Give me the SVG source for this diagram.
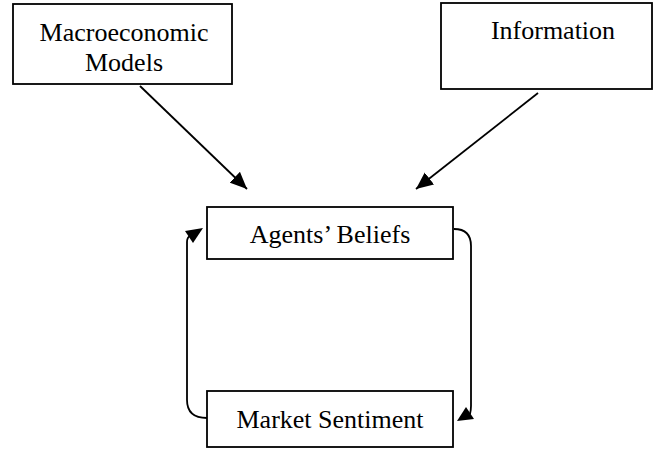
<svg xmlns="http://www.w3.org/2000/svg" width="654" height="449" viewBox="0 0 654 449">
  <style>
    .box { fill: #ffffff; stroke: #000000; stroke-width: 1.8; }
    .label { font-family: "Liberation Serif", "Times New Roman", serif; font-size: 26px; fill: #000000; text-anchor: middle; }
    .link { fill: none; stroke: #000000; stroke-width: 1.8; }
    .arrow { marker-end: url(#head); }
    .tip { fill: #000000; stroke: none; }
  </style>
  <defs>
    <marker id="head" markerUnits="userSpaceOnUse" markerWidth="20" markerHeight="16" refX="17" refY="8" orient="auto">
      <path d="M0,0.5 L17,8 L0,15.5 Z" fill="#000000"/>
    </marker>
  </defs>

  <rect width="654" height="449" fill="#ffffff"/>

  <g id="node-macro">
    <rect class="box" x="13" y="4" width="219" height="80"/>
    <text class="label" x="124" y="41">Macroeconomic</text>
    <text class="label" x="124" y="71">Models</text>
  </g>

  <g id="node-information">
    <rect class="box" x="441" y="3" width="211" height="86"/>
    <text class="label" x="553" y="39">Information</text>
  </g>

  <g id="node-beliefs">
    <rect class="box" x="207" y="207" width="246" height="52"/>
    <text class="label" x="330" y="243">Agents’ Beliefs</text>
  </g>

  <g id="node-sentiment">
    <rect class="box" x="207" y="391" width="246" height="56"/>
    <text class="label" x="330" y="428">Market Sentiment</text>
  </g>

  <g id="connectors">
    <path class="link arrow" d="M140,86 L247,189"/>
    <path class="link arrow" d="M538,93 L416,189"/>
    <!-- feedback loop: beliefs down to sentiment -->
    <path class="link" d="M454,229 C466,229 471,236 471,246 L471,406 C471,410 470.5,412 470,414"/>
    <polygon class="tip" points="457,421 466,407 474,419"/>
    <!-- feedback loop: sentiment back up to beliefs -->
    <path class="link" d="M207,418 C192,418 187,410 187,400 L187,242 C187,239 188,237 190,236"/>
    <polygon class="tip" points="203,228 185,231 193,243"/>
  </g>
</svg>
